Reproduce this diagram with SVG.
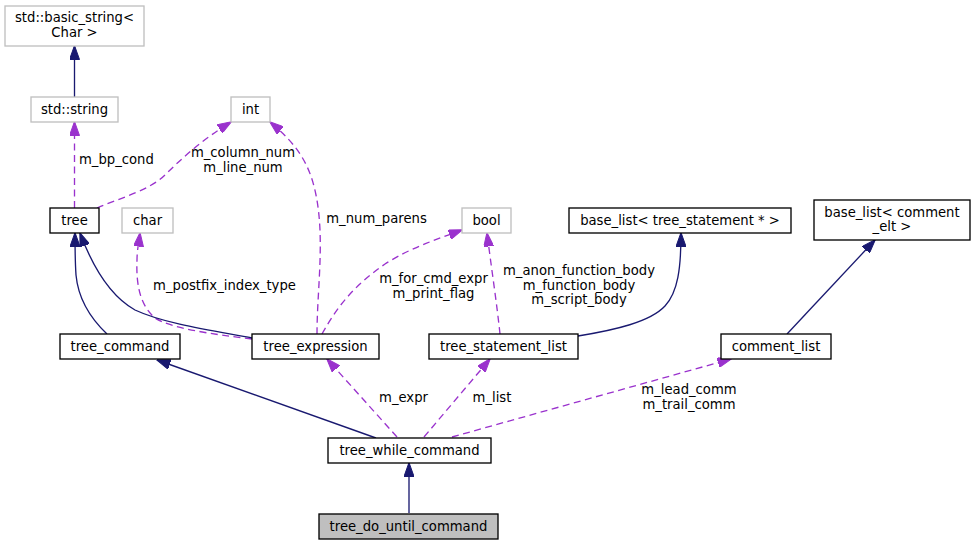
<svg xmlns="http://www.w3.org/2000/svg" width="977" height="545" viewBox="0 0 977 545">
<style>
text{font-family:"DejaVu Sans","Liberation Sans",sans-serif;font-size:13.2px;fill:#000}
.n text{text-anchor:middle}
.box{fill:#fff;stroke:#000;stroke-width:1.33}
.ext{fill:#fff;stroke:#bfbfbf;stroke-width:1.33}
.cur{fill:#bfbfbf;stroke:#000;stroke-width:1.33}
.inh{fill:none;stroke:#191970;stroke-width:1.33;marker-end:url(#ah)}
.use{fill:none;stroke:#9a32cd;stroke-width:1.33;stroke-dasharray:7,4.5;marker-end:url(#ap)}
.lbl{text-anchor:middle}
</style>
<defs>
<marker id="ah" markerUnits="userSpaceOnUse" markerWidth="14" markerHeight="10" viewBox="0 0 14 10" refX="13.5" refY="5" orient="auto"><path d="M0,0 L14,5 L0,10 z" fill="#191970" stroke="#191970"/></marker>
<marker id="ap" markerUnits="userSpaceOnUse" markerWidth="14" markerHeight="10" viewBox="0 0 14 10" refX="13.5" refY="5" orient="auto"><path d="M0,0 L14,5 L0,10 z" fill="#9a32cd" stroke="#9a32cd"/></marker>
</defs>
<rect width="977" height="545" fill="#fff"/>
<g id="edges">
<path class="inh" d="M74.5,97 L74.5,46"/>
<path class="use" d="M74.5,208 L74.5,122"/>
<path class="use" d="M97,208 C120,198 150,190 165,175 C185,155 205,138 231,122"/>
<path class="use" d="M317,334 C317,290 325,240 316,195 C310,165 298,145 270,122"/>
<path class="use" d="M252,339 C210,334 170,328 155,318 C140,305 136,285 137,260 C137,250 139,242 140,233"/>
<path class="inh" d="M107,334 C88,316 78,296 76,275 C75,260 75,245 75,233"/>
<path class="inh" d="M252,338 C215,331 165,324 135,310 C110,296 92,265 80,233"/>
<path class="use" d="M322,334 C338,305 355,285 385,264 C410,248 435,240 462,230"/>
<path class="use" d="M500,334 C497,305 491,265 487,233"/>
<path class="inh" d="M578,336 C615,330 650,322 665,306 C678,292 681,268 681,233"/>
<path class="inh" d="M787,334 L875,240"/>
<path class="inh" d="M376,438 L157,360"/>
<path class="use" d="M397,437 L327,359"/>
<path class="use" d="M424,437 L490,359"/>
<path class="use" d="M452,437 L731,359"/>
<path class="inh" d="M409,513 L409,463"/>
<text x="79" y="164">m_bp_cond</text>
<text class="lbl" x="243" y="157">m_column_num</text>
<text class="lbl" x="243" y="171.5">m_line_num</text>
<text class="lbl" x="376.5" y="223">m_num_parens</text>
<text class="lbl" x="224.5" y="290">m_postfix_index_type</text>
<text class="lbl" x="433.5" y="283">m_for_cmd_expr</text>
<text class="lbl" x="433.5" y="297.5">m_print_flag</text>
<text class="lbl" x="579" y="275">m_anon_function_body</text>
<text class="lbl" x="579" y="289.5">m_function_body</text>
<text class="lbl" x="579" y="304">m_script_body</text>
<text class="lbl" x="403.5" y="402">m_expr</text>
<text class="lbl" x="492" y="402">m_list</text>
<text class="lbl" x="689" y="394">m_lead_comm</text>
<text class="lbl" x="689" y="408.5">m_trail_comm</text>
</g>
<g id="node-basic_string" class="n"><rect class="ext" x="5" y="6" width="139" height="40"/><text x="74.5" y="22">std::basic_string&lt;</text><text x="74.5" y="36.5">Char &gt;</text></g>
<g id="node-string" class="n"><rect class="ext" x="31" y="97" width="87" height="25"/><text x="74.5" y="113.5">std::string</text></g>
<g id="node-int" class="n"><rect class="ext" x="231" y="97" width="39" height="25"/><text x="250.5" y="113.5">int</text></g>
<g id="node-tree" class="n"><rect class="box" x="50" y="208" width="49" height="25"/><text x="74.5" y="224.5">tree</text></g>
<g id="node-char" class="n"><rect class="ext" x="122" y="208" width="51" height="25"/><text x="147.5" y="224.5">char</text></g>
<g id="node-bool" class="n"><rect class="ext" x="462" y="208" width="49" height="25"/><text x="486.5" y="224.5">bool</text></g>
<g id="node-base_list_stmt" class="n"><rect class="box" x="569" y="208" width="222" height="25"/><text x="680" y="224.5">base_list&lt; tree_statement * &gt;</text></g>
<g id="node-base_list_comment" class="n"><rect class="box" x="814" y="200" width="156" height="40"/><text x="892" y="216.5">base_list&lt; comment</text><text x="892" y="231">_elt &gt;</text></g>
<g id="node-tree_command" class="n"><rect class="box" x="60" y="334" width="120" height="25"/><text x="120" y="350.5">tree_command</text></g>
<g id="node-tree_expression" class="n"><rect class="box" x="252" y="334" width="127" height="25"/><text x="315.5" y="350.5">tree_expression</text></g>
<g id="node-tree_statement_list" class="n"><rect class="box" x="429" y="334" width="149" height="25"/><text x="503.5" y="350.5">tree_statement_list</text></g>
<g id="node-comment_list" class="n"><rect class="box" x="721" y="334" width="110" height="25"/><text x="776" y="350.5">comment_list</text></g>
<g id="node-tree_while_command" class="n"><rect class="box" x="328" y="438" width="163" height="25"/><text x="409.5" y="454.5">tree_while_command</text></g>
<g id="node-tree_do_until_command" class="n"><rect class="cur" x="319" y="514" width="179" height="25"/><text x="408.5" y="530.5">tree_do_until_command</text></g>
</svg>
